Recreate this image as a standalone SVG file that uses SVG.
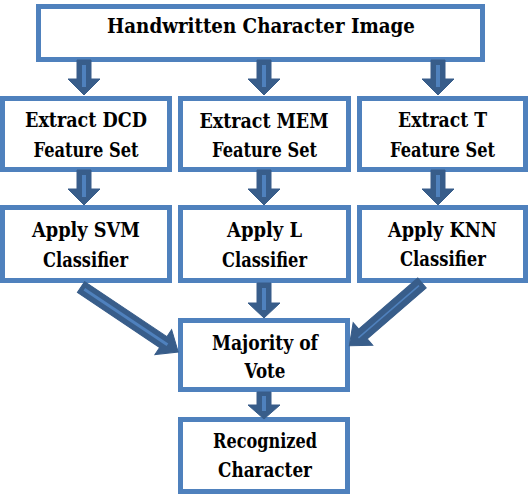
<svg xmlns="http://www.w3.org/2000/svg" width="528" height="494" viewBox="0 0 528 494">
<style>
.box{fill:#fff;stroke:#4F81BD;stroke-width:5}
.t{font-family:"DejaVu Serif",serif;font-weight:bold;font-size:19.5px;fill:#000;text-anchor:middle}
.title{font-size:21px}
.arr{fill:#385D8A;stroke:#385D8A;stroke-width:1;stroke-linejoin:miter}
.stripe{stroke:#4F81BD;stroke-width:4;fill:none}
.stripe2{stroke:#4F81BD;stroke-width:3;fill:none}
</style>
<rect width="528" height="494" fill="#fff"/>
<g id="n_image">
<rect class="box" x="38.5" y="6.5" width="444" height="53"/>
<text class="t title" x="261" y="33" textLength="308" lengthAdjust="spacingAndGlyphs">Handwritten Character Image</text>
</g>
<g id="n_dcd">
<rect class="box" x="2.5" y="98.5" width="167" height="71"/>
<text class="t" x="86" y="127" textLength="122" lengthAdjust="spacingAndGlyphs">Extract DCD</text>
<text class="t" x="86" y="157" textLength="105" lengthAdjust="spacingAndGlyphs">Feature Set</text>
</g>
<g id="n_mem">
<rect class="box" x="180.5" y="98.5" width="168" height="71"/>
<text class="t" x="264" y="128" textLength="129" lengthAdjust="spacingAndGlyphs">Extract MEM</text>
<text class="t" x="264.5" y="157" textLength="105" lengthAdjust="spacingAndGlyphs">Feature Set</text>
</g>
<g id="n_t">
<rect class="box" x="359.5" y="98.5" width="166" height="71"/>
<text class="t" x="442.5" y="127" textLength="89" lengthAdjust="spacingAndGlyphs">Extract T</text>
<text class="t" x="442.5" y="157" textLength="105" lengthAdjust="spacingAndGlyphs">Feature Set</text>
</g>
<g id="n_svm">
<rect class="box" x="2.5" y="207.5" width="167" height="73"/>
<text class="t" x="86" y="237" textLength="108" lengthAdjust="spacingAndGlyphs">Apply SVM</text>
<text class="t" x="85.5" y="267" textLength="85" lengthAdjust="spacingAndGlyphs">Classifier</text>
</g>
<g id="n_l">
<rect class="box" x="180.5" y="207.5" width="168" height="73"/>
<text class="t" x="264.5" y="237" textLength="75" lengthAdjust="spacingAndGlyphs">Apply L</text>
<text class="t" x="264.5" y="267" textLength="85" lengthAdjust="spacingAndGlyphs">Classifier</text>
</g>
<g id="n_knn">
<rect class="box" x="359.5" y="207.5" width="166" height="73"/>
<text class="t" x="442.5" y="237" textLength="109" lengthAdjust="spacingAndGlyphs">Apply KNN</text>
<text class="t" x="443" y="266" textLength="86" lengthAdjust="spacingAndGlyphs">Classifier</text>
</g>
<g id="n_vote">
<rect class="box" x="180.5" y="320.5" width="167" height="69"/>
<text class="t" x="265" y="350" textLength="106" lengthAdjust="spacingAndGlyphs">Majority of</text>
<text class="t" x="265" y="378" textLength="41" lengthAdjust="spacingAndGlyphs">Vote</text>
</g>
<g id="n_rec">
<rect class="box" x="180.5" y="419.5" width="167" height="72"/>
<text class="t" x="265" y="448" textLength="104" lengthAdjust="spacingAndGlyphs">Recognized</text>
<text class="t" x="265" y="477" textLength="94" lengthAdjust="spacingAndGlyphs">Character</text>
</g>
<g id="connectors">
<path class="arr" d="M77,60 H91 V79 H100 L84,95 L68,79 H77 Z"/>
<line class="stripe" x1="84" y1="65" x2="84" y2="87"/>
<path class="arr" d="M257,60 H271 V79 H280 L264,95 L248,79 H257 Z"/>
<line class="stripe" x1="264" y1="65" x2="264" y2="87"/>
<path class="arr" d="M431,60 H445 V79 H454 L438,95 L422,79 H431 Z"/>
<line class="stripe" x1="438" y1="65" x2="438" y2="87"/>
<path class="arr" d="M77,170 H91 V189 H100 L84,205 L68,189 H77 Z"/>
<line class="stripe" x1="84" y1="175" x2="84" y2="197"/>
<path class="arr" d="M257,170 H271 V189 H280 L264,205 L248,189 H257 Z"/>
<line class="stripe" x1="264" y1="175" x2="264" y2="197"/>
<path class="arr" d="M431,170 H445 V189 H454 L438,205 L422,189 H431 Z"/>
<line class="stripe" x1="438" y1="175" x2="438" y2="197"/>
<path class="arr" d="M257,283 H271 V303 H280 L264,318 L248,303 H257 Z"/>
<line class="stripe" x1="264" y1="288" x2="264" y2="310"/>
<path class="arr" d="M257,392 H271 V405 H280 L264,419 L248,405 H257 Z"/>
<line class="stripe" x1="264" y1="396" x2="264" y2="411"/>
<g transform="translate(81,287) rotate(33.8)">
<path class="arr" d="M0,-6.5 H99 V-15 L117,0 L99,15 V6.5 H0 Z"/>
<line class="stripe2" x1="4" y1="0" x2="104" y2="0"/>
</g>
<g transform="translate(422,283) rotate(139.2)">
<path class="arr" d="M0,-6.5 H78 V-15 L96,0 L78,15 V6.5 H0 Z"/>
<line class="stripe2" x1="4" y1="0" x2="84" y2="0" style="stroke-width:1.5"/>
</g>
</g>
</svg>
